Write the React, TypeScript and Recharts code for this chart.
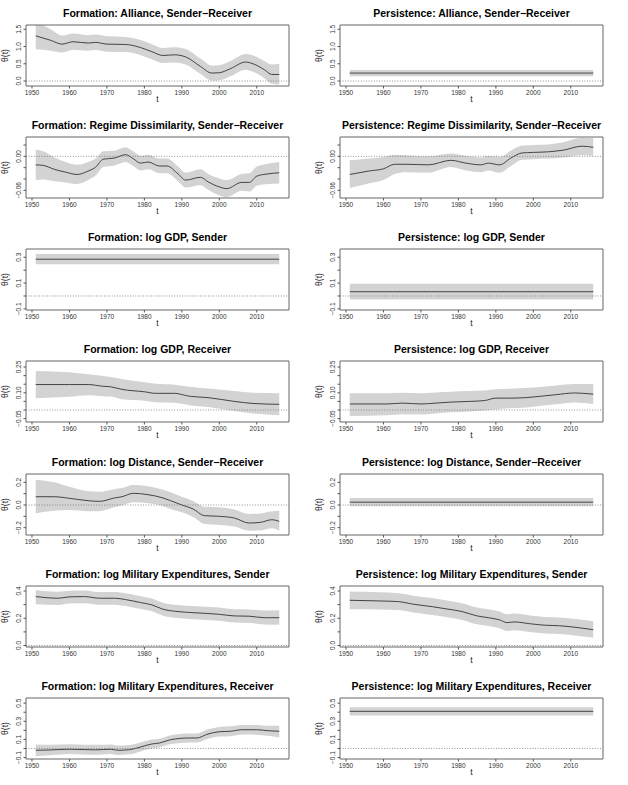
import React from "react";
import {
  Area,
  ComposedChart,
  Line,
  ReferenceArea,
  ReferenceLine,
  XAxis,
  YAxis,
} from "recharts";

// x axis shared by every panel
const X_DOMAIN = [1948.4, 2018.6];
const X_TICKS = [1950, 1960, 1970, 1980, 1990, 2000, 2010];

// --- Alliance ---
const allyFormYears = [1951, 1955, 1958, 1961, 1965, 1967, 1970, 1975, 1979, 1982, 1985, 1988, 1991, 1995, 1998, 2000, 2003, 2007, 2009, 2012, 2014, 2016];
const allyFormEst = [1.31, 1.18, 1.07, 1.14, 1.1, 1.12, 1.07, 1.06, 0.97, 0.85, 0.74, 0.76, 0.7, 0.42, 0.23, 0.24, 0.36, 0.55, 0.5, 0.33, 0.19, 0.19];
const allyFormHi = [1.72, 1.5, 1.32, 1.38, 1.33, 1.35, 1.3, 1.28, 1.19, 1.07, 0.96, 0.98, 0.93, 0.65, 0.45, 0.46, 0.58, 0.78, 0.74, 0.58, 0.48, 0.5];
const allyFormLo = [0.92, 0.88, 0.83, 0.91, 0.88, 0.9, 0.85, 0.84, 0.75, 0.63, 0.52, 0.54, 0.48, 0.2, 0.01, 0.02, 0.14, 0.33, 0.27, 0.08, -0.08, -0.1];
const allyPersYears = [1951, 2016];
const allyPersEst = [0.23, 0.23];
const allyPersHi = [0.32, 0.32];
const allyPersLo = [0.14, 0.14];
const allyDomain = [-0.145, 1.625];
const allyTicks = [0, 0.5, 1.0, 1.5];
const allyLabels = ["0.0", "0.5", "1.0", "1.5"];

// --- Regime dissimilarity ---
const regFormYears = [1951, 1953, 1956, 1959, 1962, 1965, 1967, 1969, 1972, 1975, 1977, 1979, 1981, 1984, 1986, 1989, 1991, 1995, 1997, 2000, 2002, 2006, 2008, 2010, 2013, 2016];
const regFormEst = [-0.015, -0.016, -0.023, -0.028, -0.032, -0.026, -0.019, -0.005, -0.003, 0.003, -0.004, -0.012, -0.01, -0.017, -0.017, -0.031, -0.042, -0.037, -0.045, -0.054, -0.057, -0.046, -0.046, -0.035, -0.031, -0.029];
const regFormHi = [0.012, 0.009, -0.002, -0.01, -0.015, -0.01, -0.004, 0.009, 0.01, 0.016, 0.009, 0.001, 0.003, -0.004, -0.004, -0.018, -0.029, -0.023, -0.031, -0.039, -0.042, -0.031, -0.03, -0.018, -0.013, -0.01];
const regFormLo = [-0.042, -0.041, -0.044, -0.046, -0.049, -0.042, -0.034, -0.019, -0.016, -0.01, -0.017, -0.025, -0.023, -0.03, -0.03, -0.044, -0.055, -0.051, -0.059, -0.069, -0.072, -0.061, -0.062, -0.052, -0.049, -0.048];
const regPersYears = [1951, 1956, 1960, 1963, 1966, 1972, 1978, 1982, 1986, 1988, 1991, 1994, 1997, 2000, 2004, 2008, 2013, 2016];
const regPersEst = [-0.032, -0.026, -0.022, -0.014, -0.014, -0.015, -0.007, -0.012, -0.015, -0.012, -0.015, -0.003, 0.006, 0.007, 0.008, 0.011, 0.018, 0.016];
const regPersHi = [-0.007, -0.004, -0.001, 0.003, 0.002, 0.0, 0.005, 0.001, -0.002, 0.001, -0.001, 0.01, 0.019, 0.02, 0.021, 0.025, 0.033, 0.032];
const regPersLo = [-0.056, -0.048, -0.042, -0.031, -0.028, -0.029, -0.019, -0.025, -0.028, -0.025, -0.029, -0.017, -0.006, -0.005, -0.004, -0.002, 0.002, 0.001];
const regDomain = [-0.0736, 0.0342];
const regTicks = [-0.06, -0.04, -0.02, 0, 0.02];
const regLabels = ["\u22120.06", "", "", "0.00", ""];

// --- log GDP, sender ---
const gdpSFormYears = [1951, 2016];
const gdpSFormEst = [0.285, 0.285];
const gdpSFormHi = [0.325, 0.325];
const gdpSFormLo = [0.245, 0.245];
const gdpSPersYears = [1951, 2016];
const gdpSPersEst = [0.033, 0.033];
const gdpSPersHi = [0.094, 0.094];
const gdpSPersLo = [-0.028, -0.028];
const gdpSDomain = [-0.1085, 0.364];
const gdpSTicks = [-0.1, 0, 0.1, 0.2, 0.3];
const gdpSLabels = ["\u22120.1", "", "0.1", "", "0.3"];

// --- log GDP, receiver ---
const gdpRFormYears = [1951, 1960, 1965, 1969, 1971, 1974, 1980, 1983, 1988, 1992, 1997, 2004, 2009, 2016];
const gdpRFormEst = [0.148, 0.148, 0.148, 0.138, 0.135, 0.12, 0.106, 0.097, 0.097, 0.08, 0.072, 0.05, 0.038, 0.033];
const gdpRFormHi = [0.227, 0.22, 0.208, 0.198, 0.192, 0.18, 0.161, 0.152, 0.147, 0.135, 0.125, 0.11, 0.1, 0.097];
const gdpRFormLo = [0.069, 0.077, 0.086, 0.08, 0.078, 0.062, 0.054, 0.045, 0.042, 0.028, 0.018, -0.006, -0.02, -0.031];
const gdpRPersYears = [1951, 1961, 1965, 1970, 1974, 1978, 1983, 1987, 1990, 1994, 1998, 2002, 2006, 2011, 2016];
const gdpRPersEst = [0.035, 0.035, 0.04, 0.035, 0.04, 0.046, 0.05, 0.055, 0.069, 0.069, 0.072, 0.08, 0.089, 0.099, 0.092];
const gdpRPersHi = [0.097, 0.097, 0.1, 0.098, 0.102, 0.106, 0.11, 0.113, 0.12, 0.124, 0.128, 0.134, 0.142, 0.151, 0.151];
const gdpRPersLo = [-0.035, -0.03, -0.024, -0.026, -0.02, -0.013, -0.008, -0.003, 0.003, 0.01, 0.014, 0.024, 0.033, 0.044, 0.035];
const gdpRDomain = [-0.0698, 0.285];
const gdpRTicks = [-0.05, 0, 0.05, 0.1, 0.15, 0.2, 0.25];
const gdpRLabels = ["\u22120.05", "", "", "0.10", "", "", "0.25"];

// --- log distance ---
const distFormYears = [1951, 1956, 1960, 1965, 1968, 1972, 1974, 1977, 1981, 1985, 1987, 1990, 1993, 1996, 2000, 2004, 2008, 2011, 2014, 2016];
const distFormEst = [0.073, 0.073, 0.059, 0.038, 0.032, 0.062, 0.073, 0.103, 0.091, 0.062, 0.038, 0.0, -0.035, -0.094, -0.1, -0.115, -0.159, -0.153, -0.13, -0.144];
const distFormHi = [0.223, 0.2, 0.16, 0.121, 0.118, 0.14, 0.15, 0.176, 0.165, 0.135, 0.112, 0.073, 0.035, -0.015, -0.02, -0.04, -0.079, -0.075, -0.055, -0.05];
const distFormLo = [-0.073, -0.05, -0.045, -0.056, -0.055, -0.02, -0.005, 0.024, 0.015, -0.01, -0.035, -0.065, -0.105, -0.165, -0.176, -0.19, -0.227, -0.225, -0.205, -0.227];
const distPersYears = [1951, 2016];
const distPersEst = [0.025, 0.025];
const distPersHi = [0.062, 0.062];
const distPersLo = [-0.012, -0.012];
const distDomain = [-0.2648, 0.2736];
const distTicks = [-0.2, -0.1, 0, 0.1, 0.2];
const distLabels = ["\u22120.2", "", "0.0", "", "0.2"];

// --- log military expenditures, sender ---
const milSFormYears = [1951, 1957, 1960, 1964, 1968, 1972, 1975, 1979, 1982, 1985, 1989, 1993, 2000, 2004, 2008, 2012, 2016];
const milSFormEst = [0.359, 0.347, 0.357, 0.359, 0.347, 0.347, 0.337, 0.315, 0.298, 0.266, 0.249, 0.241, 0.229, 0.217, 0.215, 0.204, 0.204];
const milSFormHi = [0.408, 0.395, 0.402, 0.404, 0.392, 0.392, 0.383, 0.362, 0.345, 0.314, 0.297, 0.289, 0.278, 0.266, 0.265, 0.256, 0.258];
const milSFormLo = [0.303, 0.298, 0.308, 0.31, 0.3, 0.3, 0.29, 0.268, 0.251, 0.219, 0.201, 0.193, 0.181, 0.168, 0.166, 0.154, 0.152];
const milSPersYears = [1951, 1959, 1964, 1968, 1973, 1977, 1981, 1985, 1988, 1991, 1993, 1995, 1999, 2003, 2007, 2012, 2016];
const milSPersEst = [0.332, 0.327, 0.322, 0.303, 0.285, 0.268, 0.249, 0.217, 0.204, 0.188, 0.168, 0.173, 0.16, 0.149, 0.145, 0.131, 0.116];
const milSPersHi = [0.396, 0.39, 0.384, 0.366, 0.348, 0.33, 0.311, 0.279, 0.266, 0.25, 0.23, 0.234, 0.221, 0.21, 0.206, 0.192, 0.178];
const milSPersLo = [0.266, 0.265, 0.26, 0.242, 0.224, 0.207, 0.188, 0.156, 0.143, 0.127, 0.107, 0.112, 0.099, 0.088, 0.084, 0.07, 0.057];
const milSDomain = [-0.011, 0.4367];
const milSTicks = [0, 0.1, 0.2, 0.3, 0.4];
const milSLabels = ["0.0", "", "0.2", "", "0.4"];

// --- log military expenditures, receiver ---
const milRFormYears = [1951, 1955, 1960, 1964, 1967, 1971, 1973, 1976, 1979, 1982, 1984, 1987, 1992, 1994, 1997, 2000, 2003, 2006, 2010, 2013, 2016];
const milRFormEst = [-0.02, -0.016, -0.008, -0.012, -0.015, -0.008, -0.02, -0.013, 0.017, 0.05, 0.06, 0.097, 0.116, 0.116, 0.16, 0.185, 0.19, 0.207, 0.207, 0.196, 0.19];
const milRFormHi = [0.045, 0.042, 0.046, 0.042, 0.04, 0.045, 0.032, 0.038, 0.066, 0.098, 0.108, 0.145, 0.166, 0.166, 0.212, 0.238, 0.244, 0.26, 0.258, 0.25, 0.25];
const milRFormLo = [-0.085, -0.075, -0.062, -0.066, -0.07, -0.06, -0.072, -0.064, -0.032, 0.002, 0.012, 0.049, 0.066, 0.066, 0.108, 0.132, 0.136, 0.154, 0.15, 0.14, 0.12];
const milRPersYears = [1951, 2016];
const milRPersEst = [0.41, 0.41];
const milRPersHi = [0.455, 0.455];
const milRPersLo = [0.365, 0.365];
const milRDomain = [-0.1158, 0.5568];
const milRTicks = [-0.1, 0, 0.1, 0.2, 0.3, 0.4, 0.5];
const milRLabels = ["\u22120.1", "", "0.1", "", "0.3", "", "0.5"];

const FONT = "'Liberation Sans', Arial, Helvetica, sans-serif";
const W = 314;
const H = 112;
const ROW_H = 785 / 7;

const panels = [
  { title: "Formation: Alliance, Sender\u2212Receiver", years: allyFormYears, est: allyFormEst, lo: allyFormLo, hi: allyFormHi, domain: allyDomain, ticks: allyTicks, labels: allyLabels },
  { title: "Persistence: Alliance, Sender\u2212Receiver", years: allyPersYears, est: allyPersEst, lo: allyPersLo, hi: allyPersHi, domain: allyDomain, ticks: allyTicks, labels: allyLabels },
  { title: "Formation: Regime Dissimilarity, Sender\u2212Receiver", years: regFormYears, est: regFormEst, lo: regFormLo, hi: regFormHi, domain: regDomain, ticks: regTicks, labels: regLabels },
  { title: "Persistence: Regime Dissimilarity, Sender\u2212Receiver", years: regPersYears, est: regPersEst, lo: regPersLo, hi: regPersHi, domain: regDomain, ticks: regTicks, labels: regLabels },
  { title: "Formation: log GDP, Sender", years: gdpSFormYears, est: gdpSFormEst, lo: gdpSFormLo, hi: gdpSFormHi, domain: gdpSDomain, ticks: gdpSTicks, labels: gdpSLabels },
  { title: "Persistence: log GDP, Sender", years: gdpSPersYears, est: gdpSPersEst, lo: gdpSPersLo, hi: gdpSPersHi, domain: gdpSDomain, ticks: gdpSTicks, labels: gdpSLabels },
  { title: "Formation: log GDP, Receiver", years: gdpRFormYears, est: gdpRFormEst, lo: gdpRFormLo, hi: gdpRFormHi, domain: gdpRDomain, ticks: gdpRTicks, labels: gdpRLabels },
  { title: "Persistence: log GDP, Receiver", years: gdpRPersYears, est: gdpRPersEst, lo: gdpRPersLo, hi: gdpRPersHi, domain: gdpRDomain, ticks: gdpRTicks, labels: gdpRLabels },
  { title: "Formation: log Distance, Sender\u2212Receiver", years: distFormYears, est: distFormEst, lo: distFormLo, hi: distFormHi, domain: distDomain, ticks: distTicks, labels: distLabels },
  { title: "Persistence: log Distance, Sender\u2212Receiver", years: distPersYears, est: distPersEst, lo: distPersLo, hi: distPersHi, domain: distDomain, ticks: distTicks, labels: distLabels },
  { title: "Formation: log Military Expenditures, Sender", years: milSFormYears, est: milSFormEst, lo: milSFormLo, hi: milSFormHi, domain: milSDomain, ticks: milSTicks, labels: milSLabels },
  { title: "Persistence: log Military Expenditures, Sender", years: milSPersYears, est: milSPersEst, lo: milSPersLo, hi: milSPersHi, domain: milSDomain, ticks: milSTicks, labels: milSLabels },
  { title: "Formation: log Military Expenditures, Receiver", years: milRFormYears, est: milRFormEst, lo: milRFormLo, hi: milRFormHi, domain: milRDomain, ticks: milRTicks, labels: milRLabels },
  { title: "Persistence: log Military Expenditures, Receiver", years: milRPersYears, est: milRPersEst, lo: milRPersLo, hi: milRPersHi, domain: milRDomain, ticks: milRTicks, labels: milRLabels },
];

const XTick = ({ x, payload }: any) => (
  <text x={x} y={94.5} textAnchor="middle" fontSize={6.5} fontFamily={FONT} fill="#333">
    {payload.value}
  </text>
);

const Panel = ({ p, left, top }: any) => {
  const data = p.years.map((year: number, i: number) => ({
    year,
    est: p.est[i],
    band: [p.lo[i], p.hi[i]],
  }));

  const YTick = ({ y, payload }: any) => {
    const txt = p.labels[p.ticks.indexOf(payload.value)] || "";
    if (!txt) return <g />;
    return (
      <text
        x={18.5}
        y={y}
        transform={`rotate(-90 18.5 ${y})`}
        textAnchor="middle"
        dominantBaseline="central"
        fontSize={6.5}
        fontFamily={FONT}
        fill="#333"
      >
        {txt}
      </text>
    );
  };

  return (
    <div style={{ position: "absolute", left, top, width: W, height: H }}>
      <ComposedChart width={W} height={H} data={data} margin={{ top: 25, right: 25, bottom: 0, left: 0 }}>
        <text x={157.5} y={17} textAnchor="middle" fontSize={10.5} fontWeight="bold" fontFamily={FONT} fill="#000">
          {p.title}
        </text>
        <text x={157.5} y={102} textAnchor="middle" fontSize={8.5} fontFamily={FONT} fill="#222">
          t
        </text>
        <text x={8} y={55.5} transform="rotate(-90 8 55.5)" textAnchor="middle" fontSize={8.5} fontFamily={FONT} fill="#222">
          θ(t)
        </text>
        <XAxis
          dataKey="year"
          type="number"
          domain={X_DOMAIN}
          ticks={X_TICKS}
          interval={0}
          height={26}
          axisLine={false}
          tickSize={2.5}
          tickLine={{ stroke: "#555" }}
          tick={<XTick />}
        />
        <YAxis
          type="number"
          domain={p.domain}
          ticks={p.ticks}
          interval={0}
          allowDataOverflow
          width={26}
          axisLine={false}
          tickSize={2.5}
          tickLine={{ stroke: "#555" }}
          tick={<YTick />}
        />
        <Area
          type="monotone"
          dataKey="band"
          stroke="none"
          fill="#d3d3d3"
          fillOpacity={1}
          dot={false}
          activeDot={false}
          isAnimationActive={false}
        />
        <Line
          type="monotone"
          dataKey="est"
          stroke="#444"
          strokeWidth={1}
          dot={false}
          activeDot={false}
          isAnimationActive={false}
        />
        <ReferenceLine y={0} stroke="#777" strokeWidth={0.8} strokeDasharray="1 1.6" ifOverflow="visible" />
        <ReferenceArea
          x1={X_DOMAIN[0]}
          x2={X_DOMAIN[1]}
          y1={p.domain[0]}
          y2={p.domain[1]}
          fill="none"
          stroke="#666"
          strokeWidth={1}
          ifOverflow="visible"
        />
      </ComposedChart>
    </div>
  );
};

export default function App() {
  return (
    <div
      style={{
        position: "absolute",
        left: 0,
        top: 0,
        width: 628,
        height: 785,
        background: "#fff",
        fontFamily: FONT,
      }}
    >
      {panels.map((p, i) => (
        <Panel key={p.title} p={p} left={(i % 2) * W} top={Math.floor(i / 2) * ROW_H} />
      ))}
    </div>
  );
}
